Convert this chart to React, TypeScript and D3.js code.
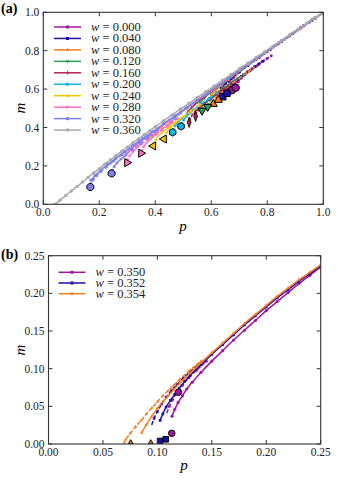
import React from 'react';
import * as d3 from 'd3';

// ---------- panel (a) ----------
const wA = ['0.000', '0.040', '0.080', '0.120', '0.160', '0.200', '0.240', '0.280', '0.320', '0.360'];

// solid curves, [p, m]
const solid000 = [[0.665,0.64],[0.68,0.662],[0.70,0.69],[0.73,0.725],[0.76,0.758],[0.80,0.798],[0.84,0.839],[0.88,0.88],[0.92,0.92],[0.96,0.96],[1.0,0.999]];
const solid040 = [[0.635,0.605],[0.65,0.628],[0.67,0.655],[0.70,0.69],[0.73,0.723],[0.77,0.764],[0.81,0.806],[0.85,0.848],[0.89,0.889],[0.93,0.93],[0.97,0.969],[1.0,0.999]];
const solid080 = [[0.60,0.57],[0.615,0.592],[0.635,0.619],[0.66,0.648],[0.69,0.682],[0.72,0.714],[0.76,0.756],[0.80,0.797],[0.84,0.838],[0.88,0.879],[0.92,0.92],[0.96,0.959],[1.0,0.999]];
const solid120 = [[0.56,0.53],[0.575,0.553],[0.595,0.58],[0.62,0.609],[0.65,0.641],[0.68,0.674],[0.72,0.715],[0.76,0.756],[0.80,0.797],[0.84,0.838],[0.88,0.879],[0.92,0.92],[0.96,0.959],[1.0,0.999]];
const solid160 = [[0.515,0.48],[0.53,0.504],[0.55,0.531],[0.575,0.56],[0.605,0.594],[0.64,0.632],[0.68,0.673],[0.72,0.715],[0.76,0.756],[0.80,0.797],[0.84,0.838],[0.88,0.879],[0.92,0.92],[0.96,0.959],[1.0,0.999]];
const solid200 = [[0.455,0.425],[0.47,0.449],[0.49,0.475],[0.515,0.503],[0.545,0.535],[0.58,0.571],[0.62,0.613],[0.66,0.655],[0.70,0.696],[0.74,0.737],[0.78,0.777],[0.82,0.818],[0.86,0.858],[0.90,0.899],[0.95,0.949],[1.0,0.999]];
const solid240 = [[0.385,0.35],[0.40,0.375],[0.42,0.401],[0.445,0.43],[0.475,0.462],[0.51,0.499],[0.55,0.541],[0.59,0.583],[0.63,0.624],[0.67,0.666],[0.71,0.707],[0.75,0.747],[0.79,0.788],[0.83,0.829],[0.87,0.869],[0.91,0.909],[0.95,0.949],[1.0,0.999]];
const solid280 = [[0.29,0.25],[0.305,0.276],[0.325,0.302],[0.35,0.331],[0.38,0.364],[0.415,0.4],[0.45,0.437],[0.49,0.479],[0.53,0.521],[0.57,0.562],[0.61,0.603],[0.65,0.645],[0.69,0.686],[0.73,0.727],[0.77,0.767],[0.81,0.808],[0.85,0.848],[0.89,0.889],[0.93,0.929],[0.97,0.969],[1.0,0.999]];
const solid320 = [[0.17,0.125],[0.185,0.15],[0.205,0.177],[0.23,0.208],[0.26,0.241],[0.29,0.273],[0.32,0.306],[0.355,0.342],[0.39,0.378],[0.43,0.42],[0.47,0.461],[0.51,0.502],[0.55,0.543],[0.59,0.584],[0.63,0.625],[0.67,0.666],[0.71,0.707],[0.75,0.747],[0.79,0.788],[0.83,0.829],[0.87,0.869],[0.91,0.909],[0.95,0.949],[1.0,0.999]];
const solid360 = [[0.042,0],[0.06,0.022],[0.08,0.046],[0.10,0.069],[0.12,0.092],[0.14,0.116],[0.16,0.14],[0.18,0.163],[0.20,0.186],[0.22,0.209],[0.24,0.232],[0.26,0.254],[0.28,0.276],[0.30,0.298],[0.32,0.32],[0.34,0.341],[0.36,0.362],[0.38,0.383],[0.40,0.404],[0.43,0.435],[0.46,0.466],[0.49,0.496],[0.52,0.526],[0.55,0.556],[0.58,0.586],[0.61,0.616],[0.64,0.646],[0.67,0.676],[0.70,0.706],[0.73,0.735],[0.76,0.765],[0.79,0.794],[0.82,0.824],[0.85,0.853],[0.88,0.883],[0.91,0.912],[0.94,0.942],[0.97,0.971],[1.0,1.0]];

// dashed branches, two per w
const dash000 = [
  [[0.673,0.594],[0.676,0.609],[0.682,0.625],[0.692,0.643],[0.706,0.662],[0.724,0.683],[0.746,0.706],[0.772,0.733],[0.8,0.761]],
  [[0.687,0.607],[0.69,0.622],[0.696,0.638],[0.706,0.656],[0.72,0.675],[0.738,0.696],[0.76,0.719],[0.786,0.746],[0.814,0.774]],
];
const dash040 = [
  [[0.641,0.56],[0.644,0.575],[0.65,0.591],[0.66,0.609],[0.674,0.628],[0.692,0.649],[0.714,0.672],[0.74,0.699],[0.768,0.728]],
  [[0.656,0.578],[0.659,0.593],[0.665,0.609],[0.675,0.627],[0.689,0.646],[0.707,0.667],[0.729,0.69],[0.755,0.717],[0.783,0.745]],
];
const dash080 = [
  [[0.607,0.522],[0.61,0.537],[0.616,0.553],[0.626,0.571],[0.64,0.591],[0.658,0.613],[0.68,0.636],[0.706,0.663],[0.735,0.693]],
  [[0.625,0.543],[0.628,0.558],[0.634,0.574],[0.644,0.592],[0.658,0.612],[0.676,0.633],[0.698,0.656],[0.724,0.683],[0.752,0.712]],
];
const dash120 = [
  [[0.567,0.488],[0.57,0.503],[0.576,0.519],[0.586,0.537],[0.6,0.557],[0.618,0.579],[0.64,0.603],[0.666,0.63],[0.695,0.66]],
  [[0.587,0.508],[0.59,0.523],[0.596,0.539],[0.606,0.557],[0.62,0.577],[0.638,0.599],[0.66,0.622],[0.686,0.649],[0.715,0.678]],
];
const dash160 = [
  [[0.521,0.427],[0.524,0.443],[0.53,0.46],[0.54,0.479],[0.554,0.499],[0.572,0.521],[0.594,0.545],[0.62,0.573],[0.65,0.605]],
  [[0.544,0.458],[0.547,0.473],[0.553,0.489],[0.563,0.507],[0.577,0.527],[0.595,0.549],[0.617,0.573],[0.643,0.6],[0.672,0.63]],
];
const dash200 = [
  [[0.462,0.375],[0.465,0.391],[0.471,0.408],[0.481,0.427],[0.495,0.447],[0.513,0.469],[0.535,0.493],[0.562,0.521],[0.592,0.553]],
  [[0.492,0.406],[0.495,0.421],[0.501,0.438],[0.511,0.456],[0.525,0.476],[0.543,0.498],[0.565,0.522],[0.592,0.55],[0.62,0.58]],
];
const dash240 = [
  [[0.393,0.304],[0.396,0.32],[0.402,0.337],[0.412,0.356],[0.426,0.376],[0.444,0.398],[0.466,0.422],[0.493,0.45],[0.523,0.482]],
  [[0.431,0.34],[0.434,0.356],[0.44,0.373],[0.45,0.392],[0.464,0.412],[0.482,0.434],[0.504,0.458],[0.53,0.486],[0.56,0.518]],
];
const dash280 = [
  [[0.299,0.217],[0.302,0.234],[0.308,0.251],[0.318,0.27],[0.332,0.29],[0.35,0.312],[0.372,0.337],[0.4,0.367],[0.43,0.4],[0.46,0.434]],
  [[0.349,0.266],[0.352,0.282],[0.358,0.299],[0.368,0.318],[0.382,0.338],[0.4,0.36],[0.422,0.385],[0.45,0.415],[0.48,0.448]],
];
const dash320 = [
  [[0.168,0.09],[0.171,0.108],[0.178,0.127],[0.19,0.148],[0.205,0.169],[0.225,0.194],[0.25,0.224],[0.28,0.258],[0.31,0.291],[0.34,0.326],[0.37,0.358]],
  [[0.244,0.161],[0.247,0.178],[0.253,0.196],[0.263,0.215],[0.277,0.235],[0.295,0.258],[0.318,0.285],[0.345,0.316],[0.375,0.35],[0.41,0.389]],
];

const solidA = [solid000, solid040, solid080, solid120, solid160, solid200, solid240, solid280, solid320, solid360];
const dashA = [dash000, dash040, dash080, dash120, dash160, dash200, dash240, dash280, dash320, []];

const colorsA = ['#a1159f', '#1f10a8', '#f57d1e', '#2f9e5c', '#b3224f', '#14b3e4', '#f5c200', '#fb6cc6', '#7d7ef0', '#aaaaaa'];
const shapesA = ['circle', 'square', 'triUp', 'triDown', 'thinDiamond', 'hexagon', 'triLeft', 'triRight', 'octagon', 'circle'];

// ---------- panel (b) ----------
const wB = ['0.350', '0.352', '0.354'];

const solid350 = [[0.1135,0.037],[0.116,0.046],[0.119,0.055],[0.123,0.064],[0.127,0.073],[0.132,0.082],[0.14,0.095],[0.15,0.11],[0.16,0.124],[0.17,0.138],[0.18,0.151],[0.19,0.164],[0.20,0.177],[0.21,0.189],[0.22,0.201],[0.23,0.213],[0.24,0.224],[0.25,0.235]];
const solid352 = [[0.1025,0.0315],[0.105,0.04],[0.108,0.049],[0.112,0.058],[0.116,0.066],[0.12,0.074],[0.125,0.083],[0.13,0.091],[0.14,0.105],[0.15,0.119],[0.16,0.132],[0.17,0.145],[0.18,0.158],[0.19,0.17],[0.20,0.182],[0.21,0.194],[0.22,0.205],[0.23,0.216],[0.24,0.226],[0.25,0.236]];
const solid354 = [[0.0856,0.015],[0.09,0.026],[0.095,0.037],[0.10,0.047],[0.105,0.056],[0.11,0.064],[0.115,0.072],[0.12,0.08],[0.13,0.094],[0.14,0.108],[0.15,0.121],[0.16,0.134],[0.17,0.147],[0.18,0.16],[0.19,0.172],[0.20,0.184],[0.21,0.196],[0.22,0.207],[0.23,0.218],[0.24,0.228],[0.25,0.238]];

const dash350 = [[0.1086,0.041],[0.111,0.05],[0.114,0.059],[0.118,0.068],[0.123,0.078],[0.129,0.088],[0.136,0.098],[0.145,0.11]];
const dash352 = [[0.0948,0.0253],[0.097,0.034],[0.10,0.043],[0.104,0.053],[0.108,0.062],[0.113,0.071],[0.118,0.079],[0.124,0.088],[0.13,0.096],[0.138,0.106]];
const dash354 = [[0.0688,0.0],[0.071,0.006],[0.075,0.014],[0.08,0.023],[0.085,0.031],[0.09,0.04],[0.095,0.048],[0.10,0.056],[0.105,0.064],[0.11,0.071],[0.115,0.078],[0.12,0.085],[0.13,0.098],[0.14,0.11]];

// big markers (jump points)
const jumpA = [
  [[0.673,0.594],[0.687,0.607]], [[0.641,0.56],[0.656,0.578]], [[0.607,0.522],[0.625,0.543]],
  [[0.567,0.488],[0.587,0.508]], [[0.521,0.427],[0.544,0.458]], [[0.462,0.375],[0.492,0.406]],
  [[0.393,0.304],[0.431,0.34]], [[0.299,0.217],[0.349,0.266]], [[0.168,0.09],[0.244,0.161]], [],
];
const jump350 = [[0.1193,0.0687],[0.1132,0.0142]];
const jump352 = [[0.1025,0.004],[0.1077,0.0062]];
const jump354 = [[0.0755,0.002],[0.0939,0.002]];

const solidB = [solid350, solid352, solid354];
const dashB = [dash350, dash352, dash354];
const jumpB = [jump350, jump352, jump354];
const colorsB = ['#a1159f', '#1f10a8', '#f57d1e'];
const shapesB = ['circle', 'square', 'triUp'];

const ticksA = [0, 0.2, 0.4, 0.6, 0.8, 1.0];
const ticksB = [0, 0.05, 0.1, 0.15, 0.2, 0.25];

const FONT = "'Liberation Serif', 'DejaVu Serif', serif";

function polygon(n: number, r: number, offset: number) {
  const pts: [number, number][] = d3.range(n).map(i => {
    const a = offset + (i * 2 * Math.PI) / n;
    return [r * Math.cos(a), r * Math.sin(a)];
  });
  return 'M' + pts.map(p => p.join(',')).join('L') + 'Z';
}

function Marker({ kind, x, y, d, fill, stroke, sw }: any) {
  let path = '';
  let rot = 0;
  let sx = 1;
  if (kind === 'circle') path = d3.symbol(d3.symbolCircle, Math.PI * (d / 2) ** 2)() as string;
  else if (kind === 'square') path = d3.symbol(d3.symbolSquare, (d * 0.85) ** 2)() as string;
  else if (kind.startsWith('tri')) {
    path = d3.symbol(d3.symbolTriangle, d * d * 0.5)() as string;
    rot = kind === 'triDown' ? 180 : kind === 'triLeft' ? -90 : kind === 'triRight' ? 90 : 0;
  } else if (kind === 'thinDiamond') {
    path = d3.symbol(d3.symbolDiamond, d * d * 0.55)() as string;
    sx = 0.62;
  } else if (kind === 'hexagon') path = polygon(6, d / 2, -Math.PI / 2);
  else if (kind === 'octagon') path = polygon(8, d / 2, Math.PI / 8);
  return (
    <path d={path} transform={`translate(${x},${y}) rotate(${rot}) scale(${sx},1)`}
      fill={fill} stroke={stroke} strokeWidth={sw} />
  );
}

function Frame({ x, y, ticks, fmt }: any) {
  const [x0, x1] = x.range();
  const [y0, y1] = y.range();
  const tl = 4;
  return (
    <g style={{ fontFamily: FONT, fontSize: '11.5px' }} fill="#222">
      {ticks.map((t: number, i: number) => (
        <g key={'x' + i}>
          <line x1={x(t)} x2={x(t)} y1={y0} y2={y0 - tl} stroke="#333" />
          <line x1={x(t)} x2={x(t)} y1={y1} y2={y1 + tl} stroke="#333" />
          <text x={x(t)} y={y0 + 12} textAnchor="middle">{fmt(t)}</text>
        </g>
      ))}
      {ticks.map((t: number, i: number) => (
        <g key={'y' + i}>
          <line x1={x0} x2={x0 + tl} y1={y(t)} y2={y(t)} stroke="#333" />
          <line x1={x1} x2={x1 - tl} y1={y(t)} y2={y(t)} stroke="#333" />
          <text x={x0 - 4} y={y(t)} dy="0.35em" textAnchor="end">{fmt(t)}</text>
        </g>
      ))}
      <rect x={x0} y={y1} width={x1 - x0} height={y0 - y1} fill="none" stroke="#333" strokeWidth={1.1} />
    </g>
  );
}

function Series({ x, y, pts, color, shape, dashed, md }: any) {
  const line = d3.line<number[]>().x(d => x(d[0])).y(d => y(d[1])).curve(d3.curveMonotoneX);
  return (
    <g>
      <path d={line(pts) as string} fill="none" stroke={color} strokeWidth={1.5}
        strokeDasharray={dashed ? '4 2' : undefined} />
      {pts.slice(dashed ? 1 : 0).map((d: number[], i: number) => (
        <Marker key={i} kind={shape} x={x(d[0])} y={y(d[1])} d={md} fill={color} stroke="none" sw={0} />
      ))}
    </g>
  );
}

function Legend({ x0, y0, step, labels, colors, shapes, lineLen }: any) {
  return (
    <g style={{ fontFamily: FONT, fontSize: '12.5px' }} fill="#222">
      {labels.map((w: string, i: number) => {
        const yy = y0 + i * step;
        const tx = x0 + lineLen + 10;
        return (
          <g key={i}>
            <line x1={x0} x2={x0 + lineLen} y1={yy} y2={yy} stroke={colors[i]} strokeWidth={1.5} />
            <Marker kind={shapes[i]} x={x0 + lineLen / 2} y={yy} d={3.6} fill={colors[i]} stroke="none" sw={0} />
            <text x={tx} y={yy + 4}>
              <tspan fontStyle="italic">w</tspan>
              {` = ${w}`}
            </text>
          </g>
        );
      })}
    </g>
  );
}

export default function App() {
  const xA = d3.scaleLinear().domain([0, 1]).range([43.3, 323.3]);
  const yA = d3.scaleLinear().domain([0, 1]).range([204.3, 12.3]);
  const xB = d3.scaleLinear().domain([0, 0.25]).range([48.5, 320.7]);
  const yB = d3.scaleLinear().domain([0, 0.25]).range([444, 255.7]);
  const labelStyle = { fontFamily: FONT, fontStyle: 'italic', fontSize: '15px' };

  return (
    <svg width={338} height={482} style={{ position: 'absolute', left: 0, top: 0, background: '#fff' }}>
      <defs>
        <clipPath id="clipA"><rect x={43.3} y={12.3} width={280} height={192} /></clipPath>
        <clipPath id="clipB"><rect x={48.5} y={255.7} width={272.2} height={188.3} /></clipPath>
      </defs>

      {/* panel (a) */}
      <g clipPath="url(#clipA)">
        {solidA.map((s, i) => (
          <g key={i}>
            {dashA[i].map((b, j) => (
              <Series key={j} x={xA} y={yA} pts={b} color={colorsA[i]} shape={shapesA[i]} dashed md={3} />
            ))}
            <Series x={xA} y={yA} pts={s} color={colorsA[i]} shape={shapesA[i]} md={3.4} />
          </g>
        ))}
        {jumpA.map((js, i) => js.map((d, j) => (
          <Marker key={i + '-' + j} kind={shapesA[i]} x={xA(d[0])} y={yA(d[1])} d={7.5}
            fill={colorsA[i]} stroke="#000" sw={1} />
        )))}
      </g>
      <Frame x={xA} y={yA} ticks={ticksA} fmt={d3.format('.1f')} />
      <Legend x0={54} y0={27} step={11.45} labels={wA} colors={colorsA} shapes={shapesA} lineLen={27} />
      <text x={1} y={13} style={{ fontFamily: FONT, fontWeight: 'bold', fontSize: '14px' }}>(a)</text>
      <text x={183} y={231} textAnchor="middle" style={labelStyle}>p</text>
      <text transform="translate(25,108) rotate(-90)" textAnchor="middle" style={labelStyle}>m</text>

      {/* panel (b) */}
      <g clipPath="url(#clipB)">
        {solidB.map((s, i) => (
          <g key={i}>
            <Series x={xB} y={yB} pts={dashB[i]} color={colorsB[i]} shape={shapesB[i]} dashed md={3} />
            <Series x={xB} y={yB} pts={s} color={colorsB[i]} shape={shapesB[i]} md={3.2} />
          </g>
        ))}
        {jumpB.map((js, i) => js.map((d, j) => (
          <Marker key={i + '-' + j} kind={shapesB[i]} x={xB(d[0])} y={yB(d[1])} d={i === 2 ? 4.5 : 6.5}
            fill={colorsB[i]} stroke="#000" sw={1} />
        )))}
      </g>
      <Frame x={xB} y={yB} ticks={ticksB} fmt={d3.format('.2f')} />
      <Legend x0={58.5} y0={272.3} step={10.7} labels={wB} colors={colorsB} shapes={shapesB} lineLen={27} />
      <text x={1} y={259} style={{ fontFamily: FONT, fontWeight: 'bold', fontSize: '14px' }}>(b)</text>
      <text x={184} y={470} textAnchor="middle" style={labelStyle}>p</text>
      <text transform="translate(25,350) rotate(-90)" textAnchor="middle" style={labelStyle}>m</text>
    </svg>
  );
}
